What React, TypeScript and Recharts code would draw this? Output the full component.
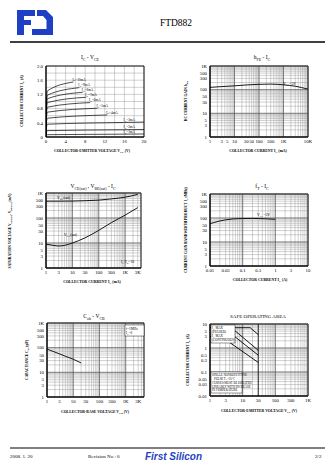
import { CartesianGrid, Line, LineChart, ReferenceArea, ReferenceLine, XAxis, YAxis } from 'recharts';
import type { ReactNode } from 'react';

const SERIF = '"Liberation Serif", "DejaVu Serif", serif';
const SANS = '"Liberation Sans", Arial, sans-serif';
const BLUE = '#1f3fc4';

// ---------- IC - VCE ----------
const vceGrid = [0, 2, 4, 6, 8, 10, 12, 14, 16, 18, 20];
const vceLabels = [0, 4, 8, 12, 16, 20];
const icGrid = [0, 0.2, 0.4, 0.6, 0.8, 1, 1.2, 1.4, 1.6, 1.8, 2];
const icLabels = [0, 0.4, 0.8, 1.2, 1.6, 2];

const ib1mA = [{ v: 0, ic: 0 }, { v: 0.1, ic: 0.05 }, { v: 0.3, ic: 0.065 }, { v: 16, ic: 0.08 }, { v: 20, ic: 0.085 }];
const ib2mA = [{ v: 0, ic: 0 }, { v: 0.1, ic: 0.14 }, { v: 0.3, ic: 0.18 }, { v: 16, ic: 0.205 }, { v: 20, ic: 0.21 }];
const ib3mA = [{ v: 0, ic: 0 }, { v: 0.1, ic: 0.28 }, { v: 0.3, ic: 0.36 }, { v: 16, ic: 0.41 }, { v: 20, ic: 0.42 }];
const ib4mA = [{ v: 0, ic: 0 }, { v: 0.1, ic: 0.42 }, { v: 0.3, ic: 0.53 }, { v: 12.5, ic: 0.62 }];
const ib5mA = [{ v: 0, ic: 0 }, { v: 0.1, ic: 0.55 }, { v: 0.3, ic: 0.7 }, { v: 10.5, ic: 0.81 }];
const ib6mA = [{ v: 0, ic: 0 }, { v: 0.1, ic: 0.65 }, { v: 0.3, ic: 0.84 }, { v: 9, ic: 0.97 }];
const ib7mA = [{ v: 0, ic: 0 }, { v: 0.1, ic: 0.75 }, { v: 0.3, ic: 0.97 }, { v: 8.2, ic: 1.12 }];
const ib8mA = [{ v: 0, ic: 0 }, { v: 0.1, ic: 0.85 }, { v: 0.3, ic: 1.08 }, { v: 7.5, ic: 1.26 }];
const ib9mA = [{ v: 0, ic: 0 }, { v: 0.1, ic: 0.95 }, { v: 0.3, ic: 1.18 }, { v: 6.8, ic: 1.39 }];
const ib10mA = [{ v: 0, ic: 0 }, { v: 0.1, ic: 1.05 }, { v: 0.3, ic: 1.3 }, { v: 5.6, ic: 1.55 }];

const ibCurves = [
  { ma: 1, data: ib1mA, at: 3 },
  { ma: 2, data: ib2mA, at: 3 },
  { ma: 3, data: ib3mA, at: 3 },
  { ma: 4, data: ib4mA, at: 3 },
  { ma: 5, data: ib5mA, at: 3 },
  { ma: 6, data: ib6mA, at: 3 },
  { ma: 7, data: ib7mA, at: 3 },
  { ma: 8, data: ib8mA, at: 3 },
  { ma: 9, data: ib9mA, at: 3 },
  { ma: 10, data: ib10mA, at: 3 },
];

// ---------- hFE - IC ----------
const hfeIc = [1, 3, 10, 30, 100, 300, 1000, 3000, 10000];
const hfeVal = [125, 135, 145, 158, 168, 172, 160, 140, 105];
const hfeXLabels = [1, 3, 5, 10, 30, 50, 100, 300, 1000, 10000];
const gainYLabels = [1, 3, 5, 10, 30, 50, 100, 300, 500, 1000];

// ---------- VCE(sat), VBE(sat) - IC ----------
const satIc = [1, 2, 3, 5, 10, 30, 100, 300, 1000, 3000];
const vbeSat = [470, 470, 470, 472, 475, 490, 520, 580, 680, 880];
const vceSat = [9, 8, 7.6, 8, 10, 16, 32, 65, 130, 260];
const satXLabels = [1, 3, 10, 30, 100, 300, 1000, 3000];

// ---------- fT - IC ----------
const ftIc = [0.01, 0.02, 0.03, 0.05, 0.1, 0.2, 0.3, 0.5, 1];
const ftVal = [58, 75, 84, 91, 95, 96, 95, 93, 88];
const ftXLabels = [0.01, 0.03, 0.1, 0.3, 1, 3, 10];

// ---------- Cob - VCB ----------
const cobV = [1, 2, 3, 5, 10, 20];
const cobVal = [88, 66, 56, 45, 34, 24];
const cobXLabels = [1, 3, 10, 30, 100, 300, 1000, 3000];

// ---------- Safe operating area ----------
const soa1ms = [{ v: 1, ic: 7 }, { v: 17, ic: 7 }, { v: 30, ic: 3.6 }];
const soa10ms = [{ v: 4.5, ic: 7 }, { v: 30, ic: 0.8 }];
const soa100ms = [{ v: 2.6, ic: 7 }, { v: 30, ic: 0.5 }];
const soaDc = [{ v: 1, ic: 3 }, { v: 2.2, ic: 3 }, { v: 30, ic: 0.25 }];
const soaXLabels = [1, 3, 10, 30, 100, 300, 1000];
const soaYLabels = [0.01, 0.03, 0.05, 0.1, 0.3, 0.5, 1, 3, 5, 10];
const vceoMax = 30;

const zip = (xs: number[], ys: number[]) => xs.map((x, i) => ({ x, y: ys[i] }));

const logGrid = (lo: number, hi: number) => {
  const out: number[] = [];
  for (let d = lo; d < hi; d *= 10) {
    for (let k = 1; k < 10; k++) {
      const v = Number((d * k).toPrecision(3));
      if (v <= hi) out.push(v);
    }
  }
  if (out[out.length - 1] !== hi) out.push(hi);
  return out;
};

const decades = (lo: number, hi: number) => {
  const out: number[] = [];
  for (let d = lo; d <= hi * 1.0001; d *= 10) out.push(Number(d.toPrecision(3)));
  return out;
};

const fmt = (v: number) => (v >= 1000 ? `${v / 1000}K` : `${v}`);
const only = (labels: number[], f = fmt) => (v: number) =>
  labels.some((l) => Math.abs(l - v) <= Math.abs(l) * 1e-6 + 1e-12) ? f(v) : '';

const YW = 22;
const XH = 12;
const MT = 2;
const MR = 4;

const tickStyle = { fontSize: 4.8, fill: '#000', fontFamily: SERIF };
const axisBase = {
  type: 'number' as const,
  tickLine: false,
  axisLine: { stroke: '#000', strokeWidth: 0.9 },
  tick: tickStyle,
  interval: 0 as const,
  tickSize: 2,
  tickMargin: 1,
  allowDataOverflow: true,
};

const Frame = ({ l, t, w, h, children }: { l: number; t: number; w: number; h: number; children: ReactNode }) => (
  <div style={{ position: 'absolute', left: l - YW, top: t - MT }}>
    <LineChart width={w + YW + MR} height={h + MT + XH} margin={{ top: MT, right: MR, bottom: 0, left: 0 }}>
      {children}
    </LineChart>
  </div>
);

const gridColor = '#8c8c8c';
const decadeColor = '#4a4a4a';

type Part = string | [string];
const Rich = ({ parts, size, ...rest }: { parts: Part[]; size: number; [k: string]: unknown }) => {
  const d = size * 0.3;
  let low = false;
  return (
    <text fontSize={size} fontFamily={SERIF} {...rest}>
      {parts.map((p, i) => {
        if (Array.isArray(p)) {
          const el = (
            <tspan key={i} dy={low ? 0 : d} fontSize={size * 0.72}>
              {p[0]}
            </tspan>
          );
          low = true;
          return el;
        }
        const el = (
          <tspan key={i} dy={low ? -d : 0}>
            {p}
          </tspan>
        );
        low = false;
        return el;
      })}
    </text>
  );
};

const Overlay = () => (
  <svg width={336} height={475} style={{ position: 'absolute', left: 0, top: 0, pointerEvents: 'none' }}>
    {/* logo */}
    <g fill={BLUE}>
      <rect x={17} y={10} width={7} height={25} />
      <rect x={17} y={10} width={18} height={6} />
      <rect x={17} y={20} width={14} height={5} />
      <path d="M37 10 L46 10 L53 17 L53 35 L32 35 L32 29 L46.5 29 L46.5 20 L43 16 L37 16 Z" />
    </g>
    <text x={176} y={26} fontSize={9.5} textAnchor="middle" fontFamily={SERIF}>
      FTD882
    </text>
    <line x1={10} x2={325} y1={42} y2={42} stroke="#000" strokeWidth={1.4} />

    {/* chart titles */}
    <Rich parts={['I', ['C'], ' - V', ['CE']]} size={5.5} x={90} y={59} textAnchor="middle" />
    <Rich parts={['h', ['FE'], ' - I', ['C']]} size={5.5} x={262} y={59} textAnchor="middle" />
    <Rich parts={['V', ['CE(sat)'], ' , V', ['BE(sat)'], ' - I', ['C']]} size={5.5} x={93} y={188} textAnchor="middle" />
    <Rich parts={['f', ['T'], ' - I', ['C']]} size={5.5} x={262} y={188} textAnchor="middle" />
    <Rich parts={['C', ['ob'], ' - V', ['CB']]} size={5.5} x={94} y={318} textAnchor="middle" />
    <text x={258} y={318} fontSize={5} textAnchor="middle" fontFamily={SERIF}>
      SAFE OPERATING AREA
    </text>

    {/* x axis titles */}
    <Rich parts={['COLLECTOR-EMITTER VOLTAGE V', ['CE'], ' (V)']} size={3.8} x={92} y={152} textAnchor="middle" fontWeight="bold" />
    <Rich parts={['COLLECTOR CURRENT I', ['C'], '  (mA)']} size={3.8} x={258} y={152} textAnchor="middle" fontWeight="bold" />
    <Rich parts={['COLLECTOR CURRENT I', ['C'], '  (mA)']} size={3.8} x={92} y={283} textAnchor="middle" fontWeight="bold" />
    <Rich parts={['COLLECTOR CURRENT I', ['C'], '  (A)']} size={3.8} x={260} y={281} textAnchor="middle" fontWeight="bold" />
    <Rich parts={['COLLECTOR-BASE VOLTAGE V', ['CB'], ' (V)']} size={3.8} x={95} y={413} textAnchor="middle" fontWeight="bold" />
    <Rich parts={['COLLECTOR-EMITTER VOLTAGE V', ['CE'], ' (V)']} size={3.8} x={259} y={412} textAnchor="middle" fontWeight="bold" />

    {/* y axis titles */}
    <Rich parts={['COLLECTOR CURRENT I', ['C'], ' (A)']} size={3.6} transform="translate(23,101) rotate(-90)" textAnchor="middle" fontWeight="bold" />
    <Rich parts={['DC CURRENT GAIN h', ['FE']]} size={3.6} transform="translate(187,101) rotate(-90)" textAnchor="middle" fontWeight="bold" />
    <Rich parts={['SATURATION VOLTAGE V', ['CE(sat)'], ', V', ['BE(sat)'], ' (mV)']} size={3.6} transform="translate(11,231) rotate(-90)" textAnchor="middle" fontWeight="bold" />
    <Rich parts={['CURRENT GAIN BANDWIDTH PRODUCT f', ['T'], ' (MHz)']} size={3.6} transform="translate(187,230) rotate(-90)" textAnchor="middle" fontWeight="bold" />
    <Rich parts={['CAPACITANCE C', ['ob'], '  (pF)']} size={3.6} transform="translate(28,360) rotate(-90)" textAnchor="middle" fontWeight="bold" />
    <Rich parts={['COLLECTOR CURRENT I', ['C'], ' (A)']} size={3.6} transform="translate(189,360) rotate(-90)" textAnchor="middle" fontWeight="bold" />

    {/* in-plot notes */}
    <Rich parts={['V', ['CE'], '=5V']} size={3.8} x={283} y={85} />
    <Rich parts={['V', ['BE'], '(sat)']} size={3.8} x={57} y={199} />
    <Rich parts={['V', ['CE'], '(sat)']} size={3.8} x={64} y={236} />
    <Rich parts={['I', ['C'], '/I', ['B'], '=10']} size={3.8} x={121} y={263} />
    <Rich parts={['V', ['CE'], '=5V']} size={3.8} x={257} y={216} />
    <rect x={125} y={325} width={19} height={11} fill="#fff" stroke="#000" strokeWidth={0.4} />
    <text x={126} y={329.5} fontSize={3.4} fontFamily={SERIF}>f=1MHz</text>
    <Rich parts={['I', ['E'], '=0']} size={3.4} x={126} y={334} />

    <rect x={211} y={325} width={24} height={18} fill="#fff" stroke="#000" strokeWidth={0.4} />
    <Rich parts={['I', ['C'], ' MAX']} size={3.2} x={212} y={329} />
    <text x={212} y={333} fontSize={3.2} fontFamily={SERIF}>(PULSED)</text>
    <Rich parts={['I', ['C'], ' MAX']} size={3.2} x={212} y={337} />
    <text x={212} y={341} fontSize={3.2} fontFamily={SERIF}>(CONTINUOUS)</text>
    <rect x={211} y={372} width={31} height={21} fill="#fff" stroke="#000" strokeWidth={0.4} />
    <text x={212} y={376} fontSize={3} fontFamily={SERIF}>SINGLE NONREPETITIVE</text>
    <Rich parts={['PULSE  T', ['C'], '=25°C']} size={3} x={214} y={379.5} />
    <text x={212} y={384} fontSize={3} fontFamily={SERIF}>CURVES MUST BE DERATED</text>
    <text x={212} y={387.5} fontSize={3} fontFamily={SERIF}>LINEARLY WITH INCREASE</text>
    <text x={212} y={391} fontSize={3} fontFamily={SERIF}>IN TEMPERATURE</text>

    {/* footer */}
    <line x1={10} x2={325} y1={448} y2={448} stroke="#000" strokeWidth={1} />
    <text x={10} y={458} fontSize={5} fontFamily={SERIF}>2008. 1. 20</text>
    <text x={88} y={458} fontSize={5} fontFamily={SERIF}>Revision No : 0</text>
    <text
      x={145}
      y={460}
      fontSize={10}
      fontFamily={SANS}
      fontStyle="italic"
      fontWeight="bold"
      fill={BLUE}
      textLength={57}
      lengthAdjust="spacingAndGlyphs"
    >
      First Silicon
    </text>
    <text x={315} y={458} fontSize={5} fontFamily={SERIF}>2/2</text>
  </svg>
);

const logFrameExtras = (xd: number[], yd: number[], x0: number, x1: number, y0: number, y1: number) => [
  ...xd.map((v) => <ReferenceLine key={`dx${v}`} x={v} stroke={decadeColor} strokeWidth={0.6} />),
  ...yd.map((v) => <ReferenceLine key={`dy${v}`} y={v} stroke={decadeColor} strokeWidth={0.6} />),
  <ReferenceArea key="box" x1={x0} x2={x1} y1={y0} y2={y1} fill="none" stroke="#000" strokeWidth={0.9} />,
];

const lineStyle = { stroke: '#000', strokeWidth: 0.9, dot: false, isAnimationActive: false, type: 'monotone' as const };

export default function App() {
  const hfeData = zip(hfeIc, hfeVal);
  const vbeData = zip(satIc, vbeSat);
  const vceData = zip(satIc, vceSat);
  const ftData = zip(ftIc, ftVal);
  const cobData = zip(cobV, cobVal);

  return (
    <div style={{ position: 'absolute', left: 0, top: 0, width: 336, height: 475, background: '#fff', overflow: 'hidden' }}>
      {/* IC - VCE */}
      <Frame l={46} t={66} w={98} h={71}>
        <CartesianGrid stroke={gridColor} strokeWidth={0.4} />
        <XAxis {...axisBase} dataKey="v" domain={[0, 20]} ticks={vceGrid} tickFormatter={only(vceLabels)} height={XH} />
        <YAxis
          {...axisBase}
          dataKey="ic"
          domain={[0, 2]}
          ticks={icGrid}
          tickFormatter={only(icLabels, (v) => (v === 0 ? '0' : v.toFixed(1)))}
          width={YW}
        />
        <ReferenceArea x1={0} x2={20} y1={0} y2={2} fill="none" stroke="#000" strokeWidth={0.9} />
        {ibCurves.map((c) => (
          <Line
            key={c.ma}
            data={c.data}
            dataKey="ic"
            {...lineStyle}
            strokeWidth={0.7}
            label={(p: { x: number; y: number; index: number }) =>
              p.index === c.at ? (
                <text key={`l${p.index}`} x={p.x - 1} y={p.y - 1.4} fontSize={3.4} fontFamily={SERIF}>
                  I<tspan dy={0.8} fontSize={2.5}>B</tspan>
                  <tspan dy={-0.8}>={c.ma}mA</tspan>
                </text>
              ) : (
                <g key={`l${p.index}`} />
              )
            }
          />
        ))}
      </Frame>

      {/* hFE - IC */}
      <Frame l={210} t={66} w={98} h={71}>
        <CartesianGrid stroke={gridColor} strokeWidth={0.4} />
        <XAxis {...axisBase} dataKey="x" scale="log" domain={[1, 10000]} ticks={logGrid(1, 10000)} tickFormatter={only(hfeXLabels)} height={XH} />
        <YAxis {...axisBase} dataKey="y" scale="log" domain={[1, 1000]} ticks={logGrid(1, 1000)} tickFormatter={only(gainYLabels)} width={YW} />
        {logFrameExtras(decades(1, 10000), decades(1, 1000), 1, 10000, 1, 1000)}
        <Line data={hfeData} dataKey="y" {...lineStyle} />
      </Frame>

      {/* VCE(sat), VBE(sat) - IC */}
      <Frame l={46} t={193} w={95} h={75}>
        <CartesianGrid stroke={gridColor} strokeWidth={0.4} />
        <XAxis {...axisBase} dataKey="x" scale="log" domain={[1, 4000]} ticks={logGrid(1, 4000)} tickFormatter={only(satXLabels)} height={XH} />
        <YAxis {...axisBase} dataKey="y" scale="log" domain={[1, 1000]} ticks={logGrid(1, 1000)} tickFormatter={only(gainYLabels)} width={YW} />
        {logFrameExtras(decades(1, 4000), decades(1, 1000), 1, 4000, 1, 1000)}
        <Line data={vbeData} dataKey="y" {...lineStyle} />
        <Line data={vceData} dataKey="y" {...lineStyle} />
      </Frame>

      {/* fT - IC */}
      <Frame l={210} t={194} w={98} h={72}>
        <CartesianGrid stroke={gridColor} strokeWidth={0.4} />
        <XAxis {...axisBase} dataKey="x" scale="log" domain={[0.01, 10]} ticks={logGrid(0.01, 10)} tickFormatter={only(ftXLabels)} height={XH} />
        <YAxis {...axisBase} dataKey="y" scale="log" domain={[1, 1000]} ticks={logGrid(1, 1000)} tickFormatter={only(gainYLabels)} width={YW} />
        {logFrameExtras(decades(0.01, 10), decades(1, 1000), 0.01, 10, 1, 1000)}
        <Line data={ftData} dataKey="y" {...lineStyle} />
      </Frame>

      {/* Cob - VCB */}
      <Frame l={47} t={323} w={97} h={74}>
        <CartesianGrid stroke={gridColor} strokeWidth={0.4} />
        <XAxis {...axisBase} dataKey="x" scale="log" domain={[1, 5000]} ticks={logGrid(1, 5000)} tickFormatter={only(cobXLabels)} height={XH} />
        <YAxis {...axisBase} dataKey="y" scale="log" domain={[1, 1000]} ticks={logGrid(1, 1000)} tickFormatter={only(gainYLabels)} width={YW} />
        {logFrameExtras(decades(1, 5000), decades(1, 1000), 1, 5000, 1, 1000)}
        <Line data={cobData} dataKey="y" {...lineStyle} />
      </Frame>

      {/* Safe operating area */}
      <Frame l={210} t={324} w={98} h={72}>
        <CartesianGrid stroke={gridColor} strokeWidth={0.4} />
        <XAxis {...axisBase} dataKey="v" scale="log" domain={[1, 1000]} ticks={logGrid(1, 1000)} tickFormatter={only(soaXLabels)} height={XH} />
        <YAxis {...axisBase} dataKey="ic" scale="log" domain={[0.01, 10]} ticks={logGrid(0.01, 10)} tickFormatter={only(soaYLabels)} width={YW} />
        {logFrameExtras(decades(1, 1000), decades(0.01, 10), 1, 1000, 0.01, 10)}
        <ReferenceLine x={vceoMax} stroke="#000" strokeWidth={0.8} />
        <Line data={soa1ms} dataKey="ic" {...lineStyle} type="linear" />
        <Line data={soa10ms} dataKey="ic" {...lineStyle} type="linear" />
        <Line data={soa100ms} dataKey="ic" {...lineStyle} type="linear" />
        <Line data={soaDc} dataKey="ic" {...lineStyle} type="linear" />
      </Frame>

      <Overlay />
    </div>
  );
}
